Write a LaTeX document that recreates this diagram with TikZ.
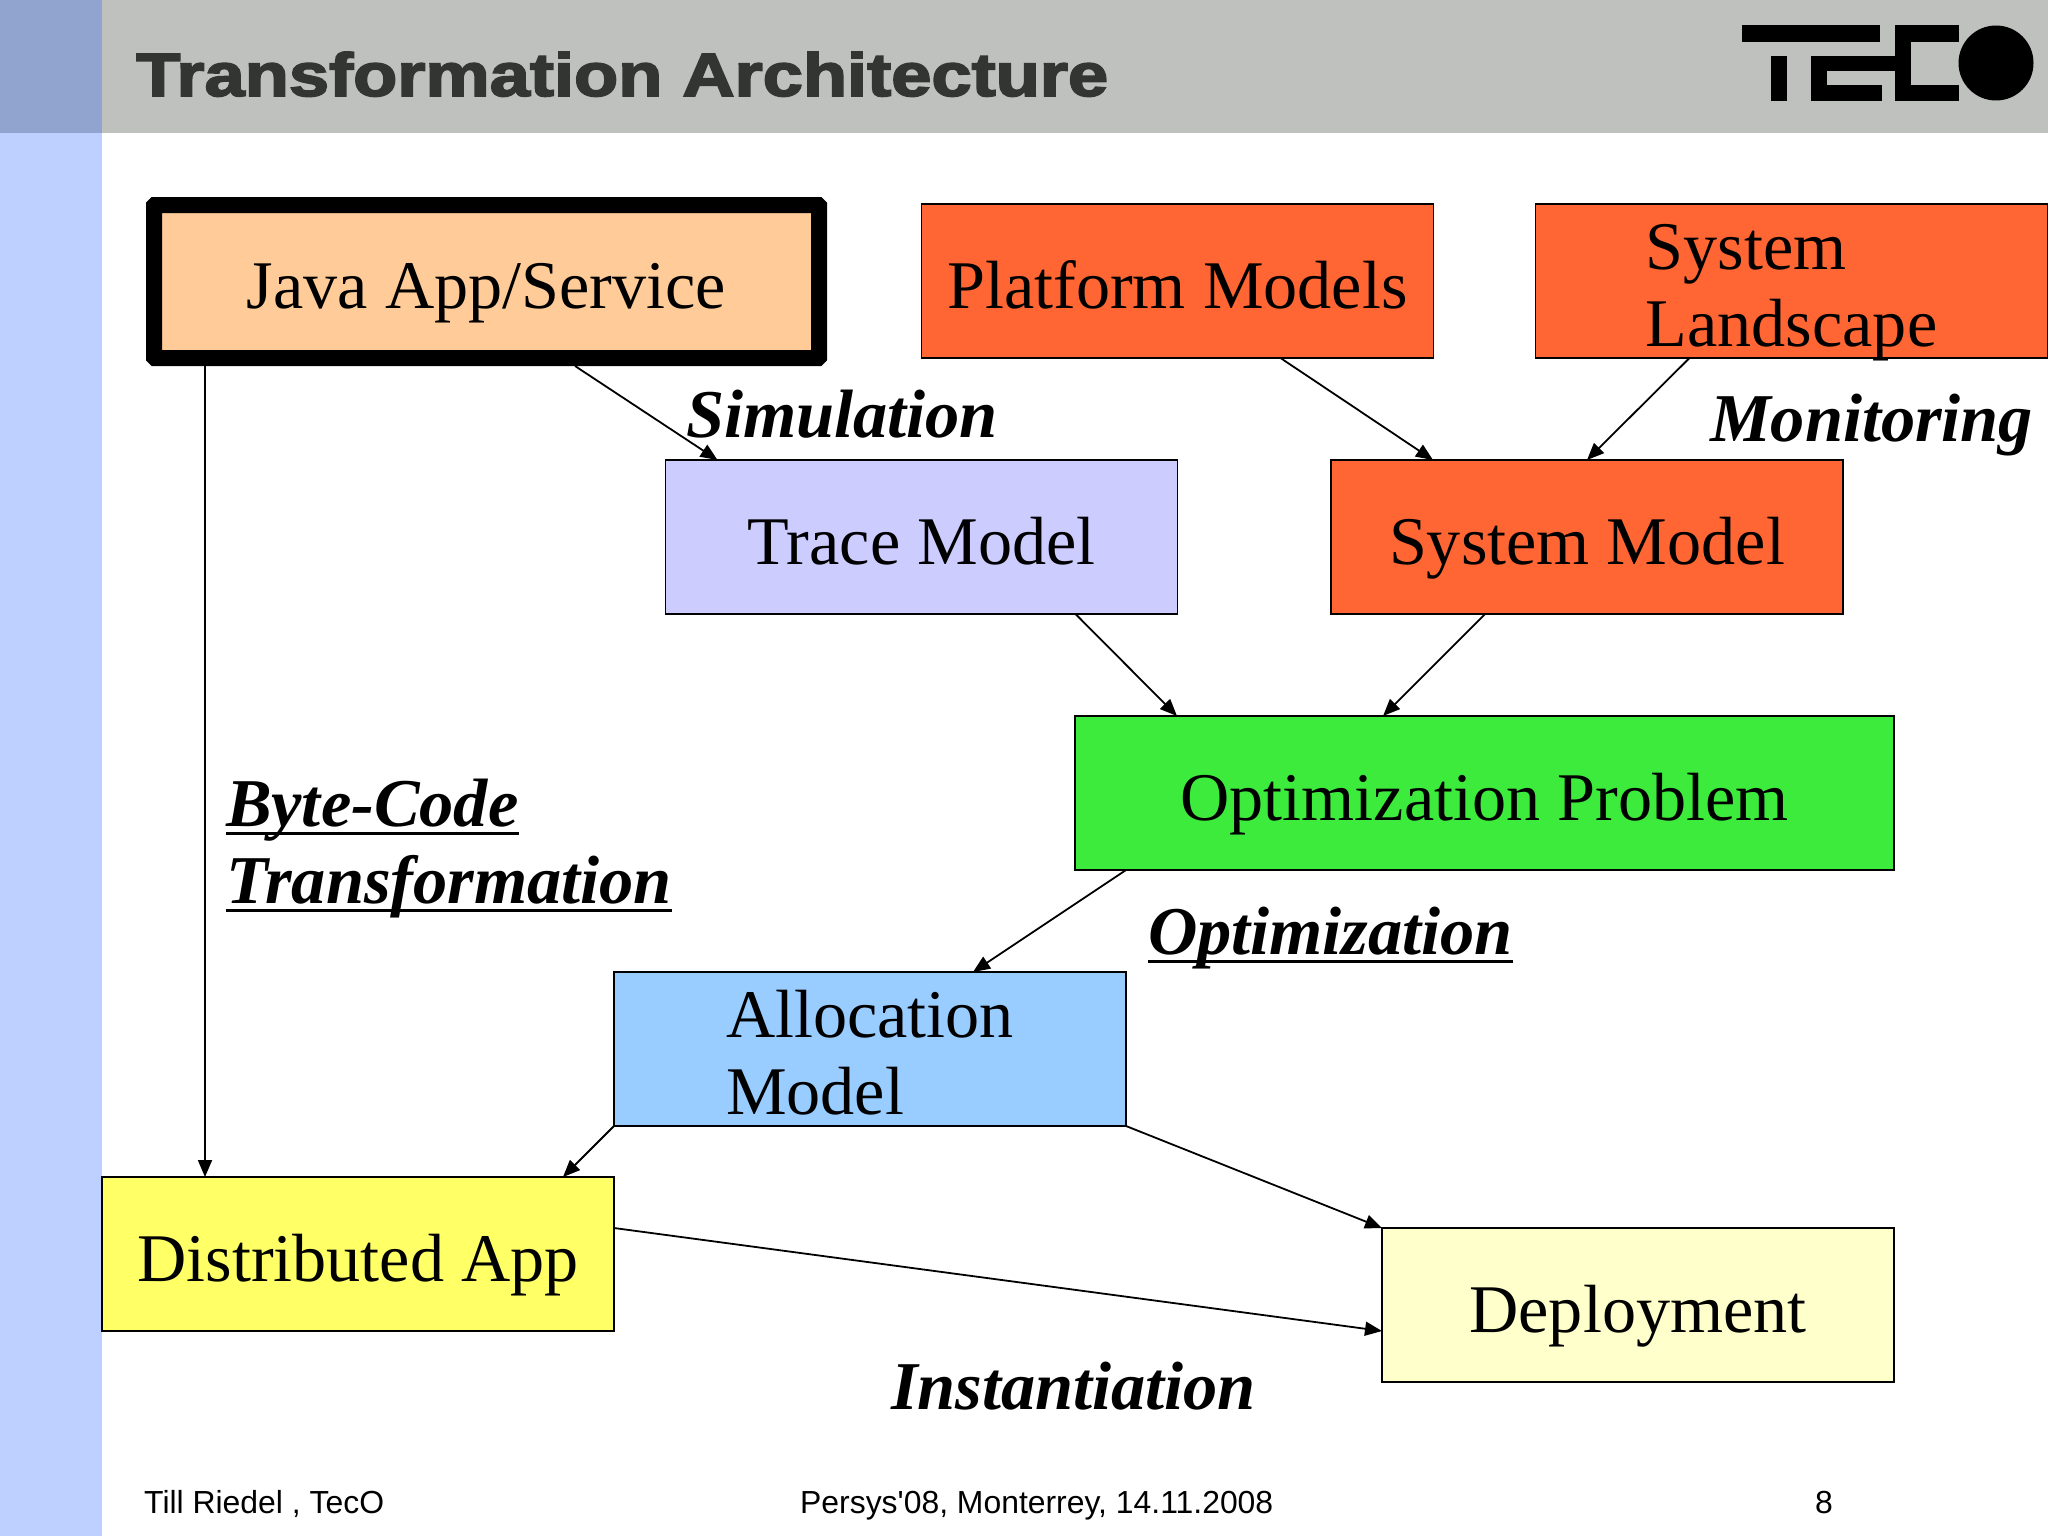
\documentclass[tikz,border=0pt]{standalone}
\usepackage{fontspec}
\setmainfont{Liberation Serif}
\newfontfamily\arialfont{Liberation Sans}
\newfontfamily\titlefont{Liberation Sans Bold}[FakeBold=2.6]
\usetikzlibrary{arrows.meta}
\definecolor{bandleft}{HTML}{BDD0FF}
\definecolor{bandcorner}{HTML}{91A3CF}
\definecolor{bandtop}{HTML}{BFC1BE}
\definecolor{titlecol}{HTML}{333533}
\definecolor{cjava}{HTML}{FFCC99}
\definecolor{corange}{HTML}{FF6633}
\definecolor{ctrace}{HTML}{CCCCFF}
\definecolor{cgreen}{HTML}{3DEB3D}
\definecolor{cblue}{HTML}{99CCFF}
\definecolor{cyellow}{HTML}{FFFF66}
\definecolor{cdeploy}{HTML}{FFFFCC}
\newcommand{\ulbox}[1]{\setbox0=\hbox{#1}\rlap{\rule[-9pt]{\wd0}{3pt}}\box0}
\newcommand{\twolines}[2]{\rule{0pt}{65pt}#1\\\smash{#2}\rule[-11pt]{0pt}{11pt}}
\tikzset{
  x=1pt,y=-1pt,
  box/.style={draw=black,line width=1.6pt,outer sep=0pt,inner sep=0pt,font=\fontsize{68.2}{77}\selectfont,
     minimum width=512pt,minimum height=154pt,text height=54pt,text depth=0pt},
  twoline/.style={text height={},text depth={},align=left},
  conn/.style={draw=black,line width=1.8pt,-{Triangle[length=17pt,width=14pt]}},
  lbl/.style={font=\fontsize{68.4}{77}\selectfont\bfseries\itshape,inner sep=0pt,outer sep=0pt,anchor=base west},
  foot/.style={font=\arialfont\fontsize{31.9}{36}\selectfont,inner sep=0pt,anchor=base west},
  logo/.style={fill=black,draw=none}
}
\begin{document}
\begin{tikzpicture}
\useasboundingbox (0,0) rectangle (2048,1536);
\fill[white] (0,0) rectangle (2048,1536);
\fill[bandleft] (0,0) rectangle (102,1536);
\fill[bandtop] (102,0) rectangle (2048,133);
\fill[bandcorner] (0,0) rectangle (102,133);
\node[inner sep=0pt,anchor=base west,text=titlecol,xscale=1.185,font=\titlefont\fontsize{61}{70}\selectfont] (title) at (136,96) {Transformation Architecture};
% logo
\fill[logo] (1742,25) rectangle (1880,42);
\fill[logo] (1771,56) rectangle (1787,101);
\fill[logo] (1811,56) rectangle (1911,71);
\fill[logo] (1811,56) rectangle (1827,101);
\fill[logo] (1811,85) rectangle (1882,101);
\fill[logo] (1895,25) rectangle (1911,101);
\fill[logo] (1895,25) rectangle (1959,42);
\fill[logo] (1895,85) rectangle (1959,101);
\fill[logo] (1996,63) circle (37.5);
% boxes
\node[box,fill=cjava,line width=16pt,rounded corners=1pt,minimum width=665pt,minimum height=153pt] (java) at (486.5,281.5) {Java App/Service};
\node[box,fill=corange] (platform) at (1177.5,281) {Platform Models};
\node[box,fill=corange,twoline] (landscape) at (1791.5,281) {\twolines{System}{Landscape}};
\node[box,fill=ctrace] (trace) at (921.5,537) {Trace Model};
\node[box,fill=corange] (sysmodel) at (1587,537) {System Model};
\node[box,fill=cgreen,minimum width=819pt] (opt) at (1484.5,793) {Optimization Problem};
\node[box,fill=cblue,twoline] (alloc) at (870,1049) {\twolines{Allocation}{Model}};
\node[box,fill=cyellow] (dist) at (358,1254) {Distributed App};
\node[box,fill=cdeploy] (deploy) at (1638,1305) {Deployment};
% connectors
\draw[conn] ([xshift=51pt,yshift=-8pt]java.south west) -- ([xshift=103pt]dist.north west);
\draw[conn] ([xshift=421pt,yshift=-8pt]java.south west) -- ([xshift=52pt]trace.north west);
\draw[conn] ([xshift=359pt]platform.south west) -- ([xshift=102pt]sysmodel.north west);
\draw[conn] ([xshift=154pt]landscape.south west) -- (sysmodel.north);
\draw[conn] ([xshift=410pt]trace.south west) -- ([xshift=102pt]opt.north west);
\draw[conn] ([xshift=154pt]sysmodel.south west) -- ([xshift=308pt]opt.north west);
\draw[conn] ([xshift=51pt]opt.south west) -- ([xshift=359pt]alloc.north west);
\draw[conn] (alloc.south west) -- ([xshift=461pt]dist.north west);
\draw[conn] (alloc.south east) -- (deploy.north west);
\draw[conn] ([yshift=103pt]dist.south east) -- ([yshift=51pt]deploy.south west);
% labels
\node[lbl] (simulation) at (686,437) {Simulation};
\node[lbl] (monitoring) at (1710,441) {Monitoring};
\node[lbl] (bytecode) at (226,826) {\ulbox{Byte-Code}};
\node[lbl] (transformation) at (226,903) {\ulbox{Transformation}};
\node[lbl] (optimization) at (1148,954) {\ulbox{Optimization}};
\node[lbl] (instantiation) at (891,1409) {Instantiation};
\node[foot] (author) at (144,1513) {Till Riedel , TecO};
\node[foot] (venue) at (800,1513) {Persys'08, Monterrey, 14.11.2008};
\node[foot] (page) at (1815,1513) {8};
\end{tikzpicture}
\end{document}
